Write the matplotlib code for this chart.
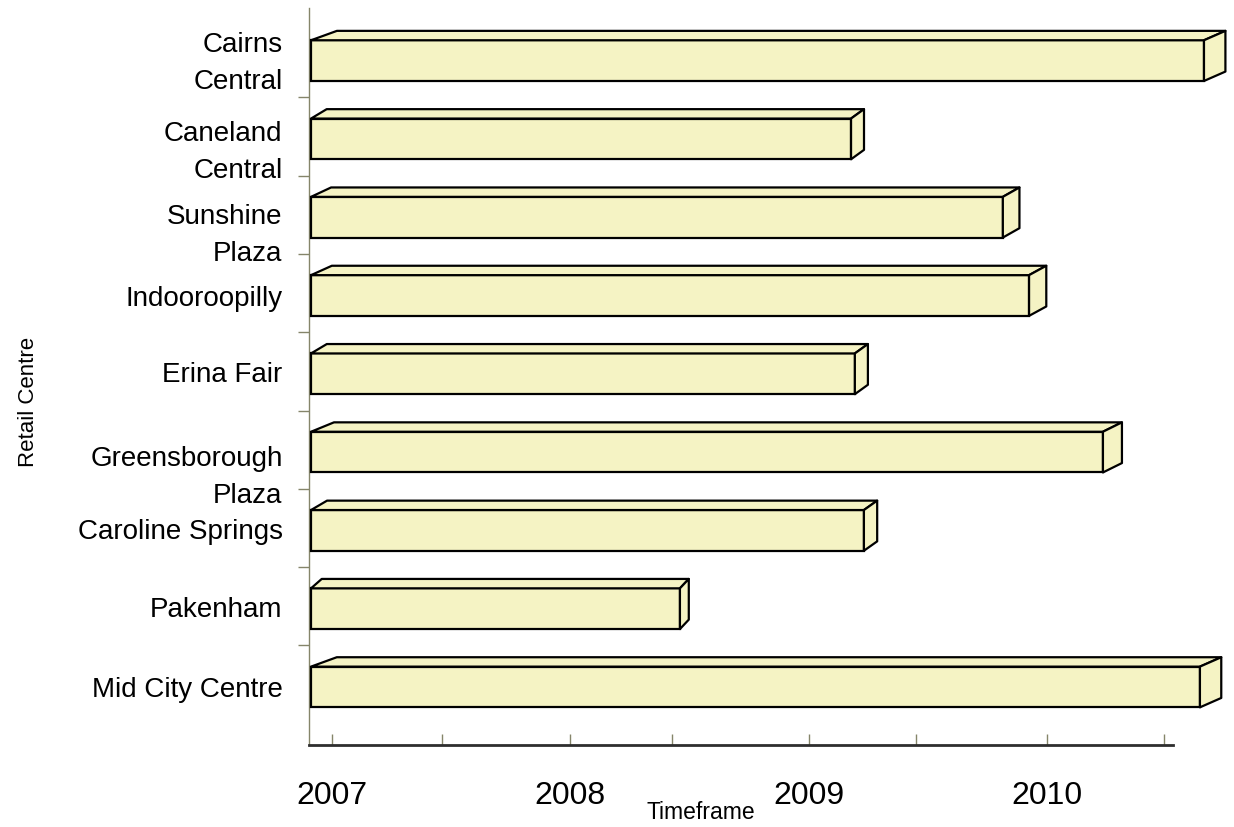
import matplotlib
matplotlib.use('Agg')
import matplotlib.pyplot as plt
from matplotlib.patches import Polygon
from matplotlib.transforms import ScaledTranslation
import numpy as np

# Retail centres, top to bottom, and the time each one ends (decimal year)
centres = ['Cairns\nCentral', 'Caneland\nCentral', 'Sunshine\nPlaza', 'Indooroopilly',
           'Erina Fair', 'Greensborough\nPlaza', 'Caroline Springs', 'Pakenham',
           'Mid City Centre']
start = [2006.912] * 9
finish = [2010.659, 2009.178, 2009.815, 2009.925, 2009.194, 2010.235, 2009.232,
          2008.460, 2010.642]
years = [2007, 2008, 2009, 2010]
half_ticks = [2007.462, 2008.427, 2009.450, 2010.491]

FONT = ['Liberation Sans', 'DejaVu Sans']
FILL = '#f5f3c4'
OLIVE = '#85856a'

BAR_H = 0.52      # front face height in category units
DEPTH_Y = 0.12    # how far the back face sits above the front
# label nudges (px, downward) for the wrapped names
label_shift = [-6, 5, 10, 0, -2, 17, -1, -2, 0]

fig = plt.figure(figsize=(12.34, 8.27), dpi=100)
ax = fig.add_axes([309/1234, 1-745/827, 864/1234, 737/827])

n = len(centres)
ypos = np.arange(n)[::-1]
widths = np.array(finish) - np.array(start)

ax.barh(ypos, widths, left=start, height=BAR_H, color=FILL, edgecolor='black',
        linewidth=1.6, clip_on=False, zorder=3)

for y, x0, x1 in zip(ypos, start, finish):
	L = x1 - x0
	dl = 0.029 * L   # back-left shift
	dr = 0.024 * L   # back-right shift
	top = y + BAR_H/2
	bot = y - BAR_H/2
	top_face = [(x0, top), (x1, top), (x1+dr, top+DEPTH_Y), (x0+dl, top+DEPTH_Y)]
	side_face = [(x1, top), (x1, bot), (x1+dr, bot+DEPTH_Y), (x1+dr, top+DEPTH_Y)]
	for pts in (top_face, side_face):
		ax.add_patch(Polygon(pts, closed=True, facecolor=FILL, edgecolor='black',
		                     linewidth=1.6, joinstyle='round', clip_on=False, zorder=3))

ax.set_xlim(2006.9035, 2010.529)
ax.set_ylim(-0.741, 8.672)

for s in ('top', 'right'):
	ax.spines[s].set_visible(False)
ax.spines['left'].set_color(OLIVE)
ax.spines['left'].set_linewidth(1.0)
ax.spines['bottom'].set_color('#2e2e2e')
ax.spines['bottom'].set_linewidth(2.0)

ax.set_xticks(years)
ax.set_xticklabels([str(y) for y in years], family=FONT, fontsize=23)
ax.set_xticks(half_ticks, minor=True)
ax.tick_params(axis='x', which='both', direction='in', length=8, color=OLIVE, width=1)
ax.tick_params(axis='x', which='major', pad=26)

ax.set_yticks(ypos)
ax.set_yticklabels(centres, family=FONT, fontsize=20, linespacing=1.55)
ax.set_yticks(np.arange(n - 1) + 0.53, minor=True)
ax.tick_params(axis='y', which='major', length=0, pad=19)
ax.tick_params(axis='y', which='minor', direction='out', length=8, color=OLIVE, width=1)

# nudge the wrapped labels the way the original sits them
shift_of = dict(zip(centres, label_shift))
for lab in ax.get_yticklabels():
	d = shift_of.get(lab.get_text(), 0)
	lab.set_transform(lab.get_transform() + ScaledTranslation(0, -d/100, fig.dpi_scale_trans))

fig.text(28/1234, 1-402/827, 'Retail Centre', rotation=90, ha='center', va='center',
         family=FONT, fontsize=16)
fig.text(701/1234, 1-819/827, 'Timeframe', ha='center', va='baseline',
         family=FONT, fontsize=16.5)

fig.savefig('out.png', dpi=100, facecolor='white')
